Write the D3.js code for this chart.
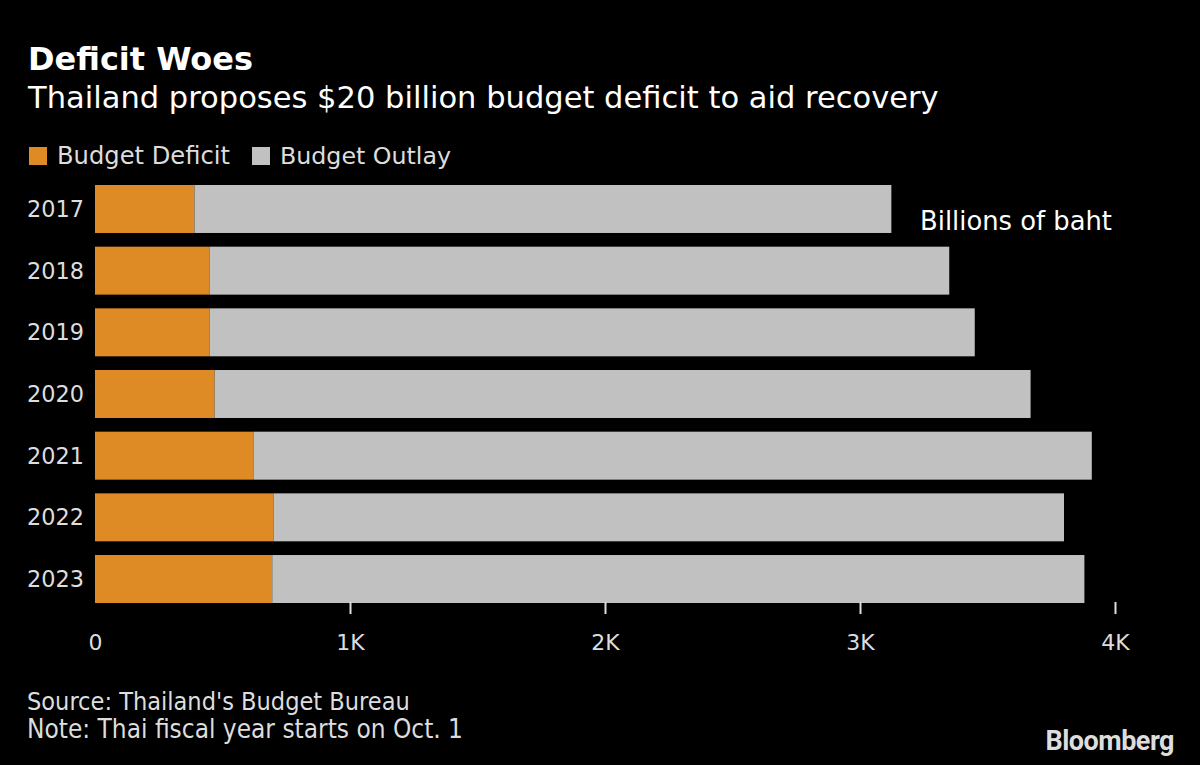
<!DOCTYPE html>
<html><head><meta charset="utf-8">
<script src="https://cdn.jsdelivr.net/npm/d3@7"></script>
<style>body{margin:0;background:#000}svg{display:block}</style>
</head><body><svg id="c" width="1200" height="765"></svg>
<script>
const years = ["2017","2018","2019","2020","2021","2022","2023"];
const deficit = [390, 450, 450, 469, 623, 700, 695];
const outlay = [2733, 2900, 3000, 3200, 3286, 3100, 3185];
const tickValues = [0, 1000, 2000, 3000, 4000];
const tickLabels = ["0", "1K", "2K", "3K", "4K"];
const seriesNames = ["Budget Deficit", "Budget Outlay"];
const colors = ["#df8b25", "#c1c1c1"];

const svg = d3.select("#c");
svg.append("rect").attr("width",1200).attr("height",765).attr("fill","#000");
const F = "'DejaVu Sans', sans-serif";

// set font size so that the text spans the target width
function fit(t, w) {
  const fs = +t.attr("font-size");
  const cur = t.node().getComputedTextLength();
  t.attr("font-size", (fs * w / cur).toFixed(2));
  return t;
}

fit(svg.append("text").attr("x",28).attr("y",70).attr("fill","#fff").attr("font-family",F)
  .attr("font-weight","bold").attr("font-size",30).text("Deficit Woes"), 225);
fit(svg.append("text").attr("x",28).attr("y",108).attr("fill","#fff").attr("font-family",F)
  .attr("font-size",28).text("Thailand proposes $20 billion budget deficit to aid recovery"), 911);

// legend
const lg = svg.append("g");
const lpos = [29, 252];
seriesNames.forEach((n,i)=>{
  lg.append("rect").attr("x",lpos[i]).attr("y",147).attr("width",18).attr("height",18).attr("fill",colors[i]);
  const t = lg.append("text").attr("x",lpos[i]+28).attr("y",164).attr("fill","#ddd").attr("font-family",F)
    .attr("font-size",23).text(n);
  if (i===0) fit(t, 173);
  else fit(t, 171);
});

const x = d3.scaleLinear().domain([0,4000]).range([95,1115]);
const y = d3.scaleBand().domain(years).range([185,603]).paddingInner(0.222).paddingOuter(0.0);

const data = years.map((yr,i)=>({year:yr, deficit:deficit[i], outlay:outlay[i]}));
const stack = d3.stack().keys(["deficit","outlay"])(data);

stack.forEach((s,si)=>{
  svg.append("g").selectAll("rect").data(s).join("rect")
    .attr("x",d=>x(d[0])).attr("width",d=>x(d[1])-x(d[0]))
    .attr("y",d=>y(d.data.year)).attr("height",y.bandwidth())
    .attr("fill",colors[si]);
});

// year labels
const yl = svg.append("g").selectAll("text").data(years).join("text")
  .attr("x",84).attr("y",d=>y(d)+y.bandwidth()/2+8).attr("text-anchor","end")
  .attr("fill","#ddd").attr("font-family",F).attr("font-size",22).text(d=>d);
fit(d3.select(yl.nodes()[0]), 57);
yl.attr("font-size", d3.select(yl.nodes()[0]).attr("font-size"));

// x axis
const ax = svg.append("g").attr("transform","translate(0,602)")
  .call(d3.axisBottom(x).tickValues(tickValues).tickFormat((d,i)=>tickLabels[i]).tickSize(12).tickPadding(20));
ax.select(".domain").remove();
ax.selectAll(".tick line").attr("stroke","#ddd").attr("stroke-width",2).filter(d=>d===0).remove();
ax.selectAll(".tick text").attr("fill","#ddd").attr("font-family",F).attr("font-size",22);

fit(svg.append("text").attr("x",920).attr("y",230).attr("fill","#fff").attr("font-family",F)
  .attr("font-size",23).text("Billions of baht"), 192);

const F2 = "'DejaVu Sans Condensed', 'Liberation Sans Narrow', sans-serif";
fit(svg.append("text").attr("x",27).attr("y",710).attr("fill","#ddd").attr("font-family",F2)
  .attr("font-size",21).text("Source: Thailand's Budget Bureau"), 383);
fit(svg.append("text").attr("x",27).attr("y",738).attr("fill","#ddd").attr("font-family",F2)
  .attr("font-size",21).text("Note: Thai fiscal year starts on Oct. 1"), 436);
fit(svg.append("text").attr("x",1174).attr("y",750).attr("text-anchor","end").attr("fill","#ddd")
  .attr("font-family","'Liberation Sans Narrow', Roboto, sans-serif").attr("font-weight","bold")
  .attr("font-size",24).attr("letter-spacing",-0.5).text("Bloomberg"), 128);
</script></body></html>
